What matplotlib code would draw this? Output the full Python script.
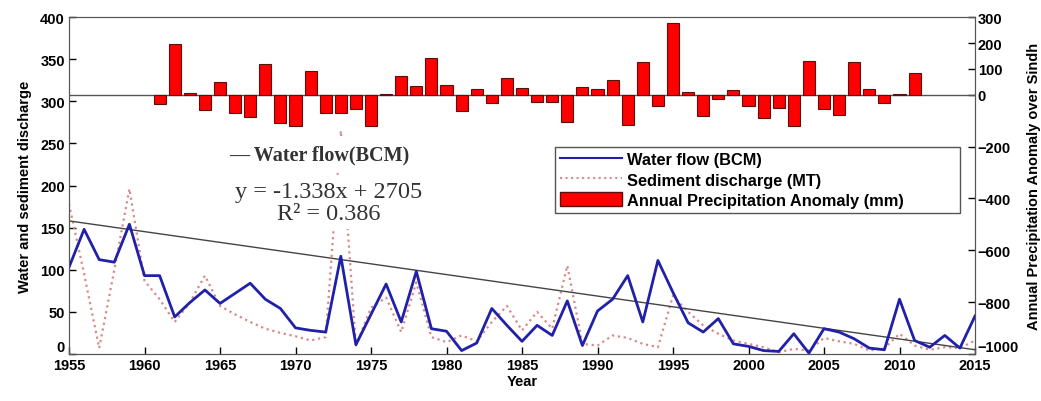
import numpy as np
import matplotlib.pyplot as plt
from matplotlib.lines import Line2D
from matplotlib.patches import Patch

# years for the flow / sediment series
years = np.arange(1955, 2016)

# Water flow (BCM)
water_flow = [103, 148, 112, 109, 154, 93, 93, 44, 61, 76,
              60, 72, 84, 65, 54, 31, 28, 26, 116, 11,
              47, 83, 38, 98, 30, 27, 4, 13, 54, 34,
              15, 34, 22, 63, 10, 51, 65, 93, 38, 111,
              73, 37, 26, 42, 12, 9, 4, 3, 24, 1,
              30, 26, 18, 7, 5, 65, 16, 8, 22, 7,
              45]

# Sediment discharge (MT)
sediment = [178, 95, 7, 100, 196, 87, 65, 38, 61, 93,
            57, 47, 38, 30, 25, 21, 16, 20, 265, 10,
            55, 67, 26, 85, 20, 14, 22, 15, 38, 57,
            28, 50, 30, 105, 12, 10, 22, 19, 12, 8,
            69, 50, 34, 24, 16, 12, 8, 2, 6, 4,
            19, 15, 12, 4, 7, 24, 10, 5, 8, 7,
            16]

# trend line of water flow as drawn on the chart
trend_years = [1955, 2015]
trend_vals = [158, 5]

# Annual precipitation anomaly over Sindh (mm)
bar_years = np.arange(1961, 2012)
anomaly = [-37, 196, 7, -58, 49, -69, -86, 119, -108, -120,
           92, -69, -69, -54, -120, 3, 74, 36, 141, 38,
           -64, 23, -32, 65, 27, -28, -28, -103, 29, 23,
           59, -115, 128, -45, 277, 9, -82, -18, 19, -45,
           -88, -51, -120, 132, -56, -77, 126, 23, -32, 4,
           83]

plt.rcParams['font.family'] = ['Liberation Sans', 'DejaVu Sans']

fig = plt.figure(figsize=(10.41, 4.02), dpi=100)
ax = fig.add_axes([0.0663, 0.117, 0.8703, 0.838])

ax.plot(years, sediment, color='#d88a8a', linestyle=':', linewidth=1.6, zorder=2)
ax.plot(years, water_flow, color='#2020a8', linewidth=2.0, zorder=3)
ax.plot(trend_years, trend_vals, color='#444444', linewidth=1.0, zorder=2)

ax.set_xlim(1955, 2015)
ax.set_ylim(0, 400)
ax.set_xticks(np.arange(1955, 2016, 5))
ax.set_yticks(np.arange(0, 401, 50))
ax.tick_params(direction='in', labelsize=10.5, length=5, width=1, pad=3)
for lab in ax.get_xticklabels() + ax.get_yticklabels():
    lab.set_fontweight('bold')
ax.get_yticklabels()[0].set_verticalalignment('bottom')
ax.set_xlabel('Year', fontsize=10.5, fontweight='bold', labelpad=1)
ax.set_ylabel('Water and sediment discharge', fontsize=10.5, fontweight='bold', labelpad=6)
for sp in ax.spines.values():
    sp.set_color('#555555')

ax2 = ax.twinx()
ax2.bar(bar_years, anomaly, width=0.8, color='#ff0000', edgecolor='#5a1010',
        linewidth=0.8, zorder=3)
ax2.axhline(0, color='#555555', linewidth=1.0, zorder=2)
ax2.set_ylim(-1000, 300)
ax2.set_yticks([300, 200, 100, 0, -200, -400, -600, -800, -1000])
ax2.tick_params(direction='in', labelsize=10.5, length=5, width=1, pad=2)
for lab in ax2.get_yticklabels():
    lab.set_fontweight('bold')
ax2.get_yticklabels()[-1].set_verticalalignment('bottom')
ax2.set_ylabel('Annual Precipitation Anomaly over Sindh', fontsize=10.5,
               fontweight='bold', labelpad=6)
for sp in ax2.spines.values():
    sp.set_color('#555555')

# annotation of the trend line
ax2.text(0.177, 0.592, '\u2014 Water flow(BCM)', transform=ax.transAxes,
         family='Liberation Serif', fontsize=14.5, fontweight='bold', color='#333333',
         ha='left', va='center', zorder=5,
         bbox=dict(facecolor='white', edgecolor='none', pad=6))
ax2.text(0.287, 0.45, 'y = -1.338x + 2705\nR\u00b2 = 0.386', transform=ax.transAxes,
         family='Liberation Serif', fontsize=17.5, color='#333333', linespacing=1.05,
         ha='center', va='center', multialignment='center', zorder=5,
         bbox=dict(facecolor='white', edgecolor='none', pad=4))

handles = [Line2D([], [], color='#2020a8', linewidth=1.5),
           Line2D([], [], color='#d88a8a', linestyle=':', linewidth=1.5),
           Patch(facecolor='#ff0000', edgecolor='#5a1010')]
labels = ['Water flow (BCM)', 'Sediment discharge (MT)', 'Annual Precipitation Anomaly (mm)']
leg = ax2.legend(handles, labels, loc='upper left',
                 bbox_to_anchor=(0.536, 0.614 - 0.2196, 0.447, 0.2196), mode='expand',
                 prop={'weight': 'bold', 'size': 11.8}, fancybox=False,
                 edgecolor='#555555', framealpha=1, borderpad=0.3,
                 labelspacing=0.28, handlelength=3.8, handleheight=0.9,
                 handletextpad=0.3, borderaxespad=0)
leg.set_zorder(6)

fig.savefig('out.png', dpi=100)
